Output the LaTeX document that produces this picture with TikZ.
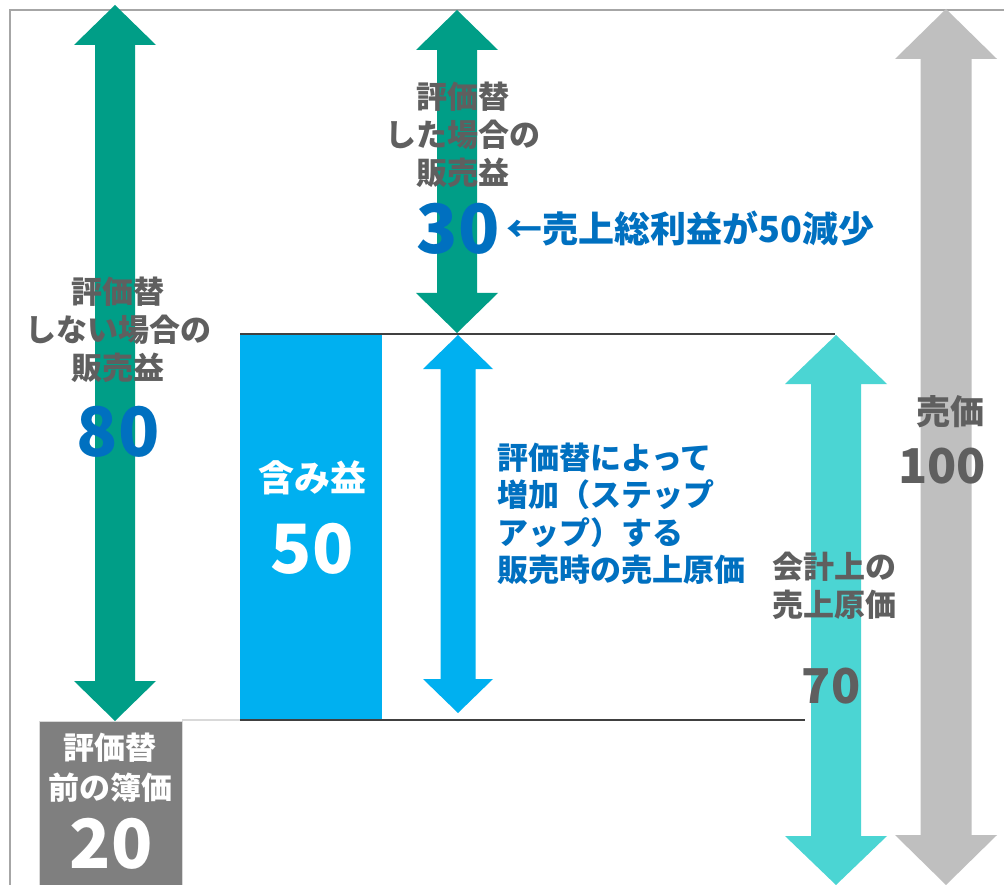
\documentclass[tikz,border=0pt]{standalone}
\usepackage{fontspec}
\setmainfont{Noto Sans CJK JP}
\definecolor{dgreen}{HTML}{009E87}
\definecolor{lblue}{HTML}{00B0F0}
\definecolor{tealc}{HTML}{4BD5D3}
\definecolor{lgray}{HTML}{BFBFBF}
\definecolor{txtgray}{HTML}{5F5F5F}
\definecolor{dblue}{HTML}{0070C0}
\definecolor{boxgray}{HTML}{7F7F7F}
\definecolor{framegray}{HTML}{A6A6A6}
\definecolor{linegray}{HTML}{404040}
\definecolor{paleline}{HTML}{D9D9D9}

% x, ytop, ybot, head half width, shaft half width, head length, colour
\newcommand\vdarrow[7]{%
  \fill[#7] (#1,#2) -- (#1+#4,#2+#6) -- (#1+#5,#2+#6) -- (#1+#5,#3-#6)
    -- (#1+#4,#3-#6) -- (#1,#3) -- (#1-#4,#3-#6) -- (#1-#5,#3-#6)
    -- (#1-#5,#2+#6) -- (#1-#4,#2+#6) -- cycle;}

\tikzset{
  lbl/.style={text=txtgray, font=\fontsize{31}{38}\selectfont\bfseries, align=center, inner sep=0},
  bluetxt/.style={text=dblue, font=\fontsize{31}{37.5}\selectfont\bfseries, align=left, inner sep=0},
  bignum/.style={font=\fontsize{68}{68}\selectfont\bfseries, inner sep=0},
  midnum/.style={font=\fontsize{48}{48}\selectfont\bfseries, inner sep=0},
  whitetxt/.style={text=white, font=\fontsize{36}{40}\selectfont\bfseries, align=center, inner sep=0},
  dkline/.style={draw=linegray, line width=2pt},
}

\begin{document}
\begin{tikzpicture}[x=1pt,y=-1pt]
\useasboundingbox (0,0) rectangle (1004,885);
\clip (0,0) rectangle (1004,885);
\fill[white] (0,0) rectangle (1004,885);

% frame
\coordinate (fTR) at (1004,10);
\coordinate (fTL) at (10,10);
\coordinate (fBL) at (10,885);
\draw[framegray, line width=1.5pt] (fTR) -- (fTL) -- (fBL);

% arrows
\vdarrow{946}{9}{885}{51}{25.5}{50}{lgray}
\vdarrow{836}{335}{885}{51}{25}{49}{tealc}
\vdarrow{115}{5}{721}{41}{20}{40}{dgreen}
\vdarrow{457}{10}{333}{41}{20}{40}{dgreen}
\vdarrow{458}{335}{713}{35}{17.5}{34}{lblue}

% unrealised gain block
\node[fill=lblue, anchor=north west, minimum width=142pt, minimum height=386pt, inner sep=0] (gain) at (240,334) {};
% book value box
\node[fill=boxgray, draw=paleline, line width=0.8pt, anchor=north west, minimum width=143pt, minimum height=170pt, inner sep=0] (bv) at (39,721) {};

% horizontal lines
\coordinate (tl1) at (240,334);
\coordinate (tl2) at (835,334);
\coordinate (bl0) at (182,720);
\coordinate (bl1) at (240,720);
\coordinate (bl2) at (805,720);
\draw[paleline, line width=1.5pt] (bl0) -- (bl1);
\draw[dkline] (tl1) -- (tl2);
\draw[dkline] (bl1) -- (bl2);

% texts
\node[lbl] (lblM) at (463,135) {評価替\\した場合の\\販売益};
\node[bignum, text=dblue] (n30) at (458,229) {30};
\node[text=dblue, font=\fontsize{36}{40}\selectfont\bfseries, anchor=west, inner sep=0] (dec) at (506,229) {←売上総利益が50減少};

\node[lbl] (lblL) at (118,330) {評価替\\しない場合の\\販売益};
\node[bignum, text=dblue] (n80) at (118,432) {80};

\node[whitetxt] (gainlbl) at (312,478) {含み益};
\node[bignum, text=white] (n50) at (312,549) {50};

\node[bluetxt, anchor=west] (blk) at (497,514) {評価替によって\\増加（ステップ\\アップ）する\\販売時の売上原価};

\node[lbl] (acct) at (834,586) {会計上の\\売上原価};
\node[midnum, text=txtgray] (n70) at (831,686) {70};

\node[lbl, font=\fontsize{34}{40}\selectfont\bfseries] (sp) at (950,412) {売価};
\node[midnum, text=txtgray] (n100) at (942,466) {100};

\node[whitetxt, font=\fontsize{31}{40}\selectfont\bfseries] (bvl) at (110,768) {評価替\\前の簿価};
\node[bignum, text=white] (n20) at (111,844) {20};
\end{tikzpicture}
\end{document}
